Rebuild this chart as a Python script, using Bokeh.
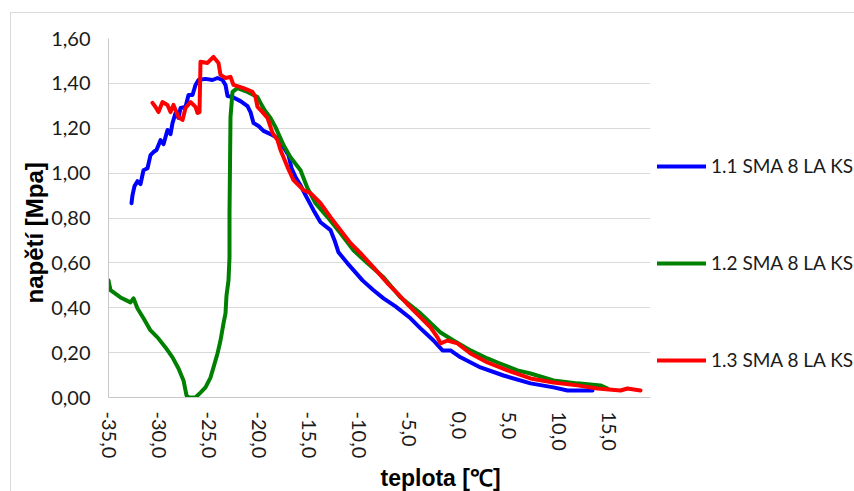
from bokeh.plotting import figure
from bokeh.models import Legend, LegendItem, FixedTicker, Range1d, Title
from bokeh.embed import file_html
from bokeh.resources import INLINE

# ---- data ----
series_names = ["1.1 SMA 8 LA KS", "1.2 SMA 8 LA KS", "1.3 SMA 8 LA KS"]
series_colors = ["#0000FF", "#008000", "#FF0000"]

blue_x = [-32.7, -32.6, -32.4, -32.1, -31.8, -31.5, -31.1, -30.8, -30.5, -30.2,
          -29.8, -29.5, -29.1, -28.8, -28.6, -28.3, -28.0, -27.8, -27.3, -27.0,
          -26.6, -26.3, -26.0, -25.3, -24.6, -24.1, -23.6, -23.3, -23.1, -22.6,
          -21.8, -21.1, -20.8, -20.5, -20.0, -19.5, -18.8, -18.1, -17.5, -17.0,
          -16.7, -16.3, -15.8, -15.3, -14.5, -13.8, -12.8, -12.4, -12.0, -11.1,
          -10.3, -9.6, -8.5, -7.5, -6.3, -4.8, -3.8, -2.5, -1.6, -0.8,
          0.2, 2.2, 4.5, 7.2, 9.5, 10.9, 13.4]
blue_y = [0.866, 0.902, 0.942, 0.964, 0.951, 1.013, 1.022, 1.080, 1.094, 1.103,
          1.147, 1.129, 1.192, 1.174, 1.223, 1.268, 1.246, 1.290, 1.295, 1.348,
          1.348, 1.393, 1.415, 1.420, 1.415, 1.424, 1.415, 1.393, 1.344, 1.339,
          1.321, 1.299, 1.272, 1.223, 1.210, 1.188, 1.174, 1.156, 1.116, 1.080,
          1.022, 0.982, 0.946, 0.902, 0.835, 0.781, 0.746, 0.701, 0.647, 0.598,
          0.558, 0.522, 0.478, 0.442, 0.406, 0.353, 0.308, 0.254, 0.210, 0.210,
          0.179, 0.134, 0.098, 0.063, 0.045, 0.031, 0.031]

green_x = [-35.0, -34.8, -33.8, -32.8, -32.5, -32.1, -31.5, -30.8, -30.1, -29.3,
           -28.6, -28.0, -27.5, -27.2, -27.0, -26.3, -25.8, -25.3, -24.8, -24.5,
           -24.1, -23.8, -23.5, -23.3, -23.2, -23.0, -22.9, -22.9, -22.8, -22.6,
           -22.1, -21.1, -20.1, -19.8, -19.4, -18.8, -18.3, -17.5, -16.8, -15.8,
           -15.1, -14.3, -13.1, -11.8, -10.5, -9.1, -7.5, -5.8, -4.8, -3.8,
           -1.8, -0.5, 1.2, 2.9, 3.9, 5.9, 7.2, 9.5, 11.9, 14.2, 14.9]
green_y = [0.522, 0.478, 0.446, 0.424, 0.442, 0.397, 0.353, 0.299, 0.268, 0.223,
           0.179, 0.129, 0.076, 0.009, 0.0, 0.0, 0.022, 0.045, 0.089, 0.134,
           0.196, 0.254, 0.330, 0.375, 0.455, 0.522, 0.625, 0.821, 1.250, 1.362,
           1.379, 1.362, 1.339, 1.313, 1.281, 1.246, 1.205, 1.125, 1.071, 1.013,
           0.933, 0.866, 0.804, 0.732, 0.656, 0.598, 0.536, 0.446, 0.411, 0.375,
           0.290, 0.254, 0.210, 0.174, 0.156, 0.121, 0.107, 0.076, 0.063, 0.054, 0.040]

red_x = [-30.6, -30.3, -30.0, -29.6, -29.1, -28.8, -28.5, -28.0, -27.6, -27.3,
         -26.8, -26.3, -26.1, -25.9, -25.8, -25.1, -24.5, -24.0, -23.8, -23.3,
         -22.8, -22.5, -21.5, -20.6, -20.3, -20.1, -19.6, -19.1, -18.6, -18.1,
         -17.8, -17.1, -16.5, -15.5, -14.8, -13.8, -12.8, -11.8, -10.8, -9.8,
         -8.5, -7.1, -6.1, -5.0, -3.8, -2.8, -2.1, -1.8, -1.1, -0.1,
         1.2, 2.9, 4.9, 7.2, 9.5, 11.9, 13.9, 16.2, 16.9, 18.2]
red_y = [1.313, 1.295, 1.272, 1.317, 1.304, 1.272, 1.304, 1.250, 1.237, 1.290,
         1.317, 1.295, 1.268, 1.272, 1.496, 1.491, 1.518, 1.491, 1.438, 1.424,
         1.429, 1.393, 1.379, 1.362, 1.339, 1.295, 1.272, 1.246, 1.179, 1.147,
         1.103, 1.027, 0.969, 0.924, 0.911, 0.866, 0.804, 0.746, 0.688, 0.643,
         0.580, 0.509, 0.464, 0.411, 0.357, 0.313, 0.268, 0.241, 0.254, 0.241,
         0.196, 0.156, 0.121, 0.085, 0.067, 0.054, 0.040, 0.031, 0.040, 0.031]

x_ticks = [-35, -30, -25, -20, -15, -10, -5, 0, 5, 10, 15]
x_tick_labels = ["-35,0", "-30,0", "-25,0", "-20,0", "-15,0", "-10,0",
                 "-5,0", "0,0", "5,0", "10,0", "15,0"]
y_ticks = [0.0, 0.2, 0.4, 0.6, 0.8, 1.0, 1.2, 1.4, 1.6]
y_tick_labels = ["0,00", "0,20", "0,40", "0,60", "0,80", "1,00", "1,20", "1,40", "1,60"]

x_title = "teplota [℃]"
y_title = "napětí [Mpa]"

# ---- figure ----
p = figure(frame_width=542, frame_height=359, output_backend="svg", toolbar_location=None,
           x_range=Range1d(-35, 19.2), y_range=Range1d(0, 1.6),
           min_border_left=97, min_border_right=0,
           min_border_top=25, min_border_bottom=92)
p.margin = (12, 0, 0, 10)
p.styles = {"border-left": "1px solid #d9d9d9", "border-top": "1px solid #d9d9d9"}
p.outline_line_color = None
p.background_fill_color = "white"
p.border_fill_color = "white"

renderers = []
for xs, ys, col in [(blue_x, blue_y, series_colors[0]),
                    (green_x, green_y, series_colors[1]),
                    (red_x, red_y, series_colors[2])]:
    r = p.line(xs, ys, line_color=col, line_width=4, line_join="round", line_cap="round")
    renderers.append(r)

# axes
p.xaxis.ticker = FixedTicker(ticks=x_ticks)
p.xaxis.major_label_overrides = {t: l for t, l in zip(x_ticks, x_tick_labels)}
p.yaxis.ticker = FixedTicker(ticks=y_ticks)
p.yaxis.major_label_overrides = {t: l for t, l in zip(y_ticks, y_tick_labels)}
p.xaxis.major_label_orientation = "vertical"

for ax in (p.xaxis, p.yaxis):
    ax.major_tick_out = 0
    ax.major_tick_in = 0
    ax.minor_tick_out = 0
    ax.minor_tick_in = 0
    ax.axis_line_color = "#c8c8c8"
    ax.major_label_text_font = "Lato"
    ax.major_label_text_font_size = "20px"
    ax.major_label_text_color = "#1a1a1a"

p.xaxis.major_label_standoff = 14
p.yaxis.major_label_standoff = 18

p.xgrid.grid_line_color = None
p.ygrid.grid_line_color = "#d9d9d9"
p.ygrid.grid_line_width = 1

# axis titles (placed as titles so they can be offset like the reference)
p.add_layout(Title(text=x_title, align="left", offset=272, standoff=2,
                   text_font="Liberation Sans", text_font_style="bold",
                   text_font_size="23px", text_color="black"), "below")
p.add_layout(Title(text=y_title, align="left", offset=94, standoff=2,
                   text_font="Liberation Sans", text_font_style="bold",
                   text_font_size="24px", text_color="black"), "left")

legend = Legend(items=[LegendItem(label=n, renderers=[r]) for n, r in zip(series_names, renderers)],
                location=(7, 26), orientation="vertical",
                border_line_color=None, background_fill_alpha=0,
                padding=0, margin=0, spacing=74,
                glyph_width=49, glyph_height=20, label_height=20,
                label_standoff=5, label_text_font="Lato",
                label_text_font_size="19px", label_text_color="#1a1a1a")
p.add_layout(legend, "right")

open("out.html", "w").write(file_html(p, INLINE))
